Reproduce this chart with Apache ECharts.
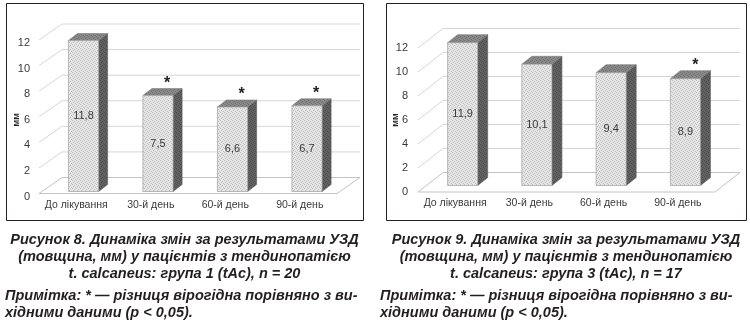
<!DOCTYPE html>
<html><head><meta charset="utf-8">
<script src="https://cdn.jsdelivr.net/npm/echarts@6/dist/echarts.min.js"></script>
<style>html,body{margin:0;padding:0;background:#fff}#c{width:750px;height:325px}</style>
</head><body><div id="c"></div><script>
// ---- data ----
const categories = ['До лікування', '30-й день', '60-й день', '90-й день'];
const valuesGroup1 = [11.8, 7.5, 6.6, 6.7];
const valuesGroup3 = [11.9, 10.1, 9.4, 8.9];
const marksGroup1 = ['', '*', '*', '*'];
const marksGroup3 = ['', '', '', '*'];
const yTicks = [0, 2, 4, 6, 8, 10, 12];
const yAxisName = 'мм';
const caption1 = ['Рисунок 8. Динаміка змін за результатами УЗД', '(товщина, мм) у пацієнтів з тендинопатією', 't. calcaneus: група 1 (tAc), n = 20'];
const caption3 = ['Рисунок 9. Динаміка змін за результатами УЗД', '(товщина, мм) у пацієнтів з тендинопатією', 't. calcaneus: група 3 (tAc), n = 17'];
const noteLines = ['Примітка: * — різниця вірогідна порівняно з ви-', 'хідними даними (p < 0,05).'];

// ---- styles ----
const FONT = '"Liberation Sans", Arial, sans-serif';
function pattern(base, dot) {
  const c = document.createElement('canvas'); c.width = 4; c.height = 4;
  const g = c.getContext('2d'); g.fillStyle = base; g.fillRect(0, 0, 4, 4);
  g.fillStyle = dot;
  [[0, 0], [2, 1], [1, 2], [3, 3]].forEach(p => g.fillRect(p[0], p[1], 1, 1));
  return { image: c, repeat: 'repeat' };
}
const frontFill = pattern('#e6e6e6', '#bcbcbc');
const topFill = pattern('#8a8a8a', '#6e6e6e');
const sideFill = pattern('#626262', '#4a4a4a');

const cfg1 = { front: [0, -3], back: [23, -19], bar: [7.25, -5], depth: [9, -7] };
const cfg3 = { front: [0, 0], back: [25, -19.5], bar: [7.5, -6.5], depth: [10, -8] };

function frameItem(cfg) {
  return function (params, api) {
    const cs = params.coordSys;
    const v = api.value(1);
    const y = api.coord([0, v])[1];
    const x0 = cs.x, x1 = cs.x + cs.width;
    const fx = cfg.front[0], fy = cfg.front[1], bx = cfg.back[0], by = cfg.back[1];
    const grid = { stroke: '#d6d6d6', lineWidth: 1 };
    const floor = { stroke: '#c4c4c4', lineWidth: 1 };
    const children = [
      { type: 'line', shape: { x1: x0 + fx, y1: y + fy, x2: x0 + bx, y2: y + by }, style: v === yTicks[0] ? floor : grid },
      { type: 'line', shape: { x1: x0 + bx, y1: y + by, x2: x1 + bx, y2: y + by }, style: v === yTicks[0] ? floor : grid }
    ];
    if (v === yTicks[0]) {
      children.push({ type: 'line', shape: { x1: x0 + fx, y1: y + fy, x2: x1 + fx, y2: y + fy }, style: floor });
      children.push({ type: 'line', shape: { x1: x1 + fx, y1: y + fy, x2: x1 + bx, y2: y + by }, style: floor });
    }
    return { type: 'group', children: children };
  };
}

function barItem(cfg, marks) {
  return function (params, api) {
    const i = api.value(0), v = api.value(1);
    const base = api.coord([i, 0]), top = api.coord([i, v]);
    const w = api.size([1, 0])[0] * 0.405;
    const xl = base[0] - w / 2 + cfg.bar[0], xr = xl + w;
    const yb = base[1] + cfg.bar[1], yt = top[1] + cfg.bar[1];
    const dx = cfg.depth[0], dy = cfg.depth[1];
    const edge = '#7a7a7a';
    const children = [
      { type: 'polygon', shape: { points: [[xr, yt], [xr + dx, yt + dy], [xr + dx, yb + dy], [xr, yb]] }, style: { fill: sideFill, stroke: '#555', lineWidth: 0.6 } },
      { type: 'polygon', shape: { points: [[xl, yt], [xl + dx, yt + dy], [xr + dx, yt + dy], [xr, yt]] }, style: { fill: topFill, stroke: edge, lineWidth: 0.6 } },
      { type: 'rect', shape: { x: xl, y: yt, width: w, height: yb - yt }, style: { fill: frontFill, stroke: '#a0a0a0', lineWidth: 0.7 } },
      { type: 'text', x: xl + w / 2, y: (yt + yb) / 2, style: { text: String(v).replace('.', ','), fontFamily: FONT, fontSize: 11, fill: '#3a3a3a', align: 'center', verticalAlign: 'middle' } }
    ];
    if (marks[i]) {
      children.push({ type: 'text', x: xl + w / 2 + dx, y: yt + dy + 3, style: { text: marks[i], fontFamily: FONT, fontSize: 16, fontWeight: 'bold', fill: '#222', align: 'center', verticalAlign: 'bottom' } });
    }
    return { type: 'group', children: children };
  };
}

function xAxisOf(gi, margin) {
  return { gridIndex: gi, type: 'category', data: categories, axisLine: { show: false }, axisTick: { show: false },
    axisLabel: { interval: 0, fontFamily: FONT, fontSize: 10.5, color: '#3a3a3a', margin: margin } };
}
function yAxisOf(gi, margin) {
  return { gridIndex: gi, type: 'value', min: yTicks[0], max: yTicks[yTicks.length - 1], interval: yTicks[1] - yTicks[0],
    axisLine: { show: false }, axisTick: { show: false }, splitLine: { show: false },
    axisLabel: { fontFamily: FONT, fontSize: 11, color: '#3a3a3a', margin: margin },
    name: yAxisName, nameLocation: 'middle', nameGap: 18, nameRotate: 90, nameMoveOverlap: false,
    nameTextStyle: { fontFamily: FONT, fontSize: 9, fontWeight: 'bold', color: '#222' } };
}

const capFont = { fontFamily: FONT, fontSize: 14.5, fontWeight: 'bold', fontStyle: 'italic', fill: '#231f20' };
const graphics = [
  { type: 'rect', shape: { x: 6.5, y: 3.5, width: 357, height: 217 }, style: { fill: 'none', stroke: '#231f20', lineWidth: 1 } },
  { type: 'rect', shape: { x: 386.5, y: 3.5, width: 360, height: 217 }, style: { fill: 'none', stroke: '#231f20', lineWidth: 1 } }
];
const capY = [240, 257, 274];
caption1.forEach((t, k) => graphics.push({ type: 'text', x: 184.5, y: capY[k], style: Object.assign({ text: t, align: 'center', verticalAlign: 'middle' }, capFont) }));
caption3.forEach((t, k) => graphics.push({ type: 'text', x: 566, y: capY[k], style: Object.assign({ text: t, align: 'center', verticalAlign: 'middle' }, capFont) }));
const noteY = [296, 313];
noteLines.forEach((t, k) => {
  graphics.push({ type: 'text', x: 5, y: noteY[k], style: Object.assign({ text: t, align: 'left', verticalAlign: 'middle' }, capFont) });
  graphics.push({ type: 'text', x: 380, y: noteY[k], style: Object.assign({ text: t, align: 'left', verticalAlign: 'middle' }, capFont) });
});

const chart = echarts.init(document.getElementById('c'), null, { renderer: 'canvas' });
chart.setOption({
  backgroundColor: '#fff',
  animation: false,
  grid: [
    { left: 39, width: 298, top: 43, height: 153.5 },
    { left: 418, width: 297, top: 48, height: 144 }
  ],
  xAxis: [xAxisOf(0, 3), xAxisOf(1, 6)],
  yAxis: [yAxisOf(0, 9), yAxisOf(1, 10)],
  graphic: graphics,
  series: [
    { type: 'custom', xAxisIndex: 0, yAxisIndex: 0, renderItem: frameItem(cfg1), data: yTicks.map(v => [0, v]), z: 1, silent: true },
    { type: 'custom', xAxisIndex: 0, yAxisIndex: 0, renderItem: barItem(cfg1, marksGroup1), data: valuesGroup1.map((v, i) => [i, v]), z: 2 },
    { type: 'custom', xAxisIndex: 1, yAxisIndex: 1, renderItem: frameItem(cfg3), data: yTicks.map(v => [0, v]), z: 1, silent: true },
    { type: 'custom', xAxisIndex: 1, yAxisIndex: 1, renderItem: barItem(cfg3, marksGroup3), data: valuesGroup3.map((v, i) => [i, v]), z: 2 }
  ]
});
</script></body></html>
